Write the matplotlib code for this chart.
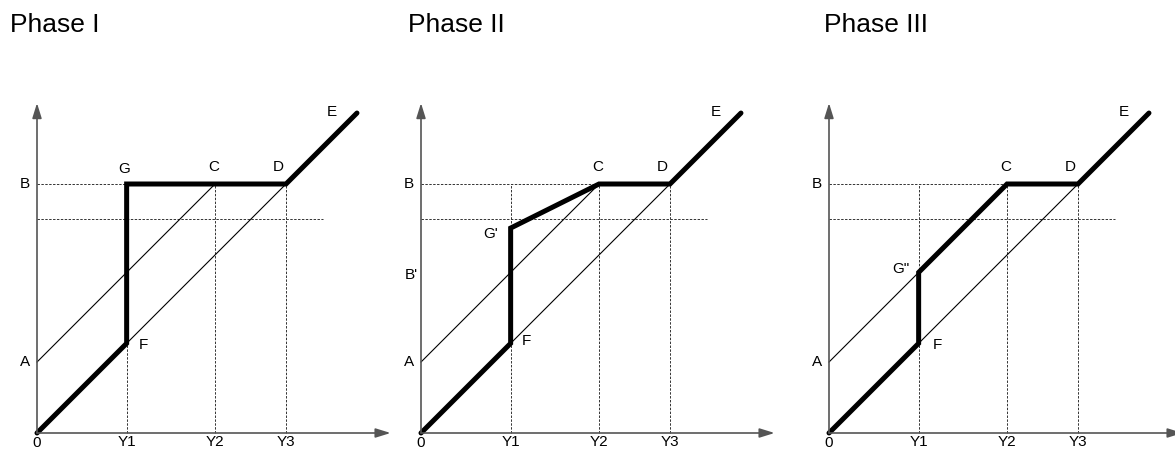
import matplotlib.pyplot as plt

# positions des points (unités : Y3 = B = 1)
y1 = 0.36
y2 = 0.715
y3 = 1.0
a_val = 0.285
b_val = 1.0
b_low = 0.86
e_end = 1.285
g_prime = 0.823
g_dbl = a_val + y1

titles = ['Phase I', 'Phase II', 'Phase III']

# trajets en gras de chaque phase
bold_x = [
    [0, y1, y1, y3, e_end],
    [0, y1, y1, y2, y3, e_end],
    [0, y1, y1, y2, y3, e_end],
]
bold_y = [
    [0, y1, b_val, b_val, e_end],
    [0, y1, g_prime, b_val, b_val, e_end],
    [0, y1, g_dbl, b_val, b_val, e_end],
]
# fin de la droite fine partant de A
a_line_end = [y2, y2, y1]
# hauteur des pointillés verticaux en Y1
y1_dash_top = [y1, b_val, b_val]
# fin des pointillés horizontaux en B
b_dash_end = [y1, y2, y2]

W, H = 1175, 450
S = 249.0
origins = [(37, 433), (421, 433), (829, 433)]
title_x = [10, 408, 824]
xmin, xmax, ymin, ymax = -0.2, 1.5, -0.1, 1.4

fig = plt.figure(figsize=(W / 100, H / 100), dpi=100)
plt.rcParams['font.family'] = ['Liberation Sans', 'DejaVu Sans']

dash = dict(color='#333333', lw=0.7, ls=(0, (2.5, 1.5)), clip_on=False)
thin = dict(color='black', lw=0.8, clip_on=False)
lab = dict(fontsize=11, ha='center', va='center')

for i in range(3):
    ox, oy = origins[i]
    left = ox + xmin * S
    bottom = (H - oy) + ymin * S
    ax = fig.add_axes([left / W, bottom / H, (xmax - xmin) * S / W, (ymax - ymin) * S / H])
    ax.set_xlim(xmin, xmax)
    ax.set_ylim(ymin, ymax)
    ax.axis('off')

    # axes avec flèches
    ax.annotate('', xy=(1.42, 0), xytext=(0, 0), annotation_clip=False,
                arrowprops=dict(arrowstyle='-|>,head_length=0.9,head_width=0.28', color='#555555', lw=1.2, shrinkA=0, shrinkB=0))
    ax.annotate('', xy=(0, 1.325), xytext=(0, 0), annotation_clip=False,
                arrowprops=dict(arrowstyle='-|>,head_length=0.9,head_width=0.28', color='#555555', lw=1.2, shrinkA=0, shrinkB=0))

    # pointillés
    ax.plot([0, b_dash_end[i]], [b_val, b_val], **dash)
    ax.plot([0, 1.15], [b_low, b_low], **dash)
    ax.plot([y1, y1], [0, y1_dash_top[i]], **dash)
    ax.plot([y2, y2], [0, b_val], **dash)
    ax.plot([y3, y3], [0, b_val], **dash)

    # droites fines
    ax.plot([0, a_line_end[i]], [a_val, a_val + a_line_end[i]], **thin)
    ax.plot([0, y3], [0, y3], **thin)

    # trajet en gras
    ax.plot(bold_x[i], bold_y[i], color='black', lw=3.6, solid_capstyle='round',
            solid_joinstyle='miter', clip_on=False)

    # étiquettes
    ax.text(-0.05, b_val, 'B', **lab)
    ax.text(-0.05, a_val, 'A', **lab)
    ax.text(0, -0.042, '0', **lab)
    ax.text(y1, -0.035, 'Y1', **lab)
    ax.text(y2, -0.035, 'Y2', **lab)
    ax.text(y3, -0.035, 'Y3', **lab)
    ax.text(y2 - 0.005, b_val + 0.068, 'C', **lab)
    ax.text(y3 - 0.03, b_val + 0.068, 'D', **lab)
    ax.text(1.185, e_end + 0.005, 'E', **lab)
    if i == 0:
        ax.text(y1 - 0.01, b_val + 0.06, 'G', **lab)
        ax.text(y1 + 0.068, y1 - 0.005, 'F', **lab)
    elif i == 1:
        ax.text(y1 - 0.08, g_prime - 0.025, "G'", **lab)
        ax.text(-0.04, 0.635, "B'", bbox=dict(facecolor='white', edgecolor='none', pad=1), **lab)
        ax.text(y1 + 0.065, y1 + 0.01, 'F', **lab)
    else:
        ax.text(y1 - 0.07, g_dbl + 0.015, 'G"', **lab)
        ax.text(y1 + 0.076, y1 - 0.005, 'F', **lab)

    fig.text(title_x[i] / W, 1 - 25 / H, titles[i], fontsize=19, ha='left', va='center')

fig.savefig('out.png', dpi=100)
